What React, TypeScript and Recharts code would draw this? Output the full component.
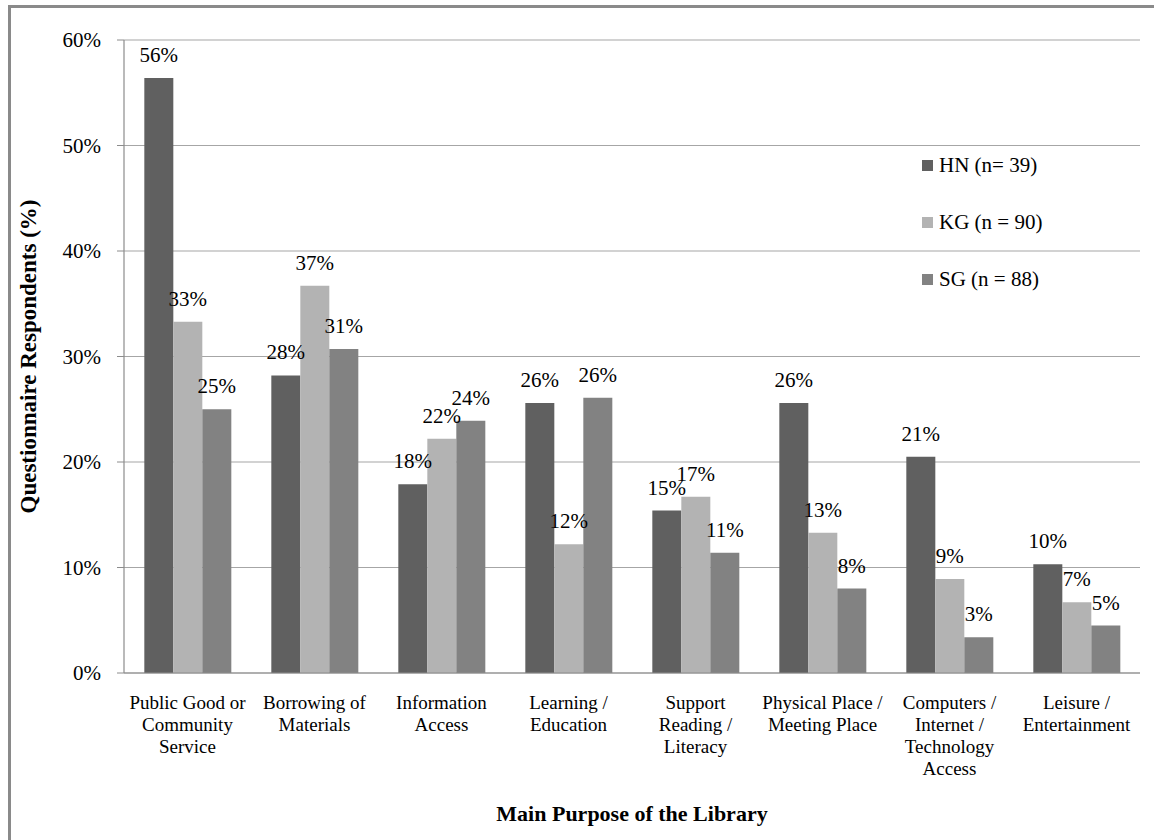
import React from 'react';
import {
  BarChart,
  Bar,
  XAxis,
  YAxis,
  CartesianGrid,
  Legend,
  LabelList,
} from 'recharts';

const FONT = '"Liberation Serif", "Times New Roman", serif';

// Survey answers: main purpose of the library, % of respondents per site
const categories = [
  'Public Good or\nCommunity\nService',
  'Borrowing of\nMaterials',
  'Information\nAccess',
  'Learning /\nEducation',
  'Support\nReading /\nLiteracy',
  'Physical Place /\nMeeting Place',
  'Computers /\nInternet /\nTechnology\nAccess',
  'Leisure /\nEntertainment',
];
const hnValues = [56.4, 28.2, 17.9, 25.6, 15.4, 25.6, 20.5, 10.3];
const kgValues = [33.3, 36.7, 22.2, 12.2, 16.7, 13.3, 8.9, 6.7];
const sgValues = [25.0, 30.7, 23.9, 26.1, 11.4, 8.0, 3.4, 4.5];
const seriesNames = ['HN (n= 39)', 'KG (n = 90)', 'SG (n = 88)'];
const seriesColors = ['#606060', '#b3b3b3', '#828282'];
const yTicks = [0, 10, 20, 30, 40, 50, 60];
const edgeTicks = [0, 1, 2, 3, 4, 5, 6, 7, 8];

const data = categories.map((name, i) => ({
  name,
  hn: hnValues[i],
  kg: kgValues[i],
  sg: sgValues[i],
}));
const seriesKeys = ['hn', 'kg', 'sg'];

const CategoryTick = (props: any) => {
  const { x, y, payload } = props;
  const lines = String(payload.value).split('\n');
  return (
    <text x={x} y={y} textAnchor="middle" fontFamily={FONT} fontSize={19} fill="#000">
      {lines.map((line, i) => (
        <tspan key={i} x={x} dy={i === 0 ? 36 : 22}>
          {line}
        </tspan>
      ))}
    </text>
  );
};

const LegendBox = () => (
  <div style={{ fontFamily: FONT, fontSize: 21, color: '#000' }}>
    {seriesNames.map((n, i) => (
      <div key={n} style={{ display: 'flex', alignItems: 'center', height: 57 }}>
        <span
          style={{
            display: 'inline-block',
            width: 11,
            height: 11,
            background: seriesColors[i],
            marginRight: 6,
          }}
        />
        {n}
      </div>
    ))}
  </div>
);

export default function App() {
  return (
    <>
      <div
        style={{
          position: 'absolute',
          left: 8,
          top: 5,
          width: 1143,
          height: 835,
          borderTop: '3px solid #8a8a8a',
          borderLeft: '3px solid #8a8a8a',
          background: '#fff',
        }}
      />
      <div style={{ position: 'absolute', left: 0, top: 0 }}>
        <BarChart
          width={1154}
          height={840}
          data={data}
          margin={{ top: 40, right: 14, bottom: 7, left: 64 }}
          barCategoryGap="16%"
          barGap={0}
        >
          <CartesianGrid vertical={false} stroke="#a6a6a6" strokeWidth={1.2} />
          <XAxis
            xAxisId="edge"
            type="number"
            dataKey="edge"
            domain={[0, 8]}
            ticks={edgeTicks}
            height={0}
            axisLine={false}
            tickSize={6}
            tickLine={{ stroke: '#8c8c8c' }}
            tick={() => <g />}
          />
          <XAxis
            dataKey="name"
            interval={0}
            height={160}
            tickSize={0}
            tickMargin={0}
            tickLine={false}
            axisLine={{ stroke: '#8c8c8c', strokeWidth: 1.2 }}
            tick={<CategoryTick />}
            label={{
              value: 'Main Purpose of the Library',
              position: 'insideBottom',
              offset: 12,
              style: { fontFamily: FONT, fontSize: 22, fontWeight: 'bold', fill: '#000' },
            }}
          />
          <YAxis
            width={60}
            domain={[0, 60]}
            ticks={yTicks}
            tickFormatter={(v) => `${v}%`}
            tickSize={7}
            tickMargin={16}
            tickLine={{ stroke: '#8c8c8c' }}
            axisLine={{ stroke: '#8c8c8c', strokeWidth: 1.2 }}
            tick={{ fontFamily: FONT, fontSize: 21, fill: '#000' }}
            label={{
              value: 'Questionnaire Respondents (%)',
              angle: -90,
              position: 'left',
              offset: 36,
              style: { fontFamily: FONT, fontSize: 23, fontWeight: 'bold', fill: '#000', textAnchor: 'middle' },
            }}
          />
          <Legend
            layout="vertical"
            align="center"
            verticalAlign="middle"
            content={<LegendBox />}
            wrapperStyle={{ position: 'absolute', left: 922, top: 137, width: 200, height: 171 }}
          />
          {seriesKeys.map((key, i) => (
            <Bar
              key={key}
              dataKey={key}
              name={seriesNames[i]}
              fill={seriesColors[i]}
              isAnimationActive={false}
            >
              <LabelList
                dataKey={key}
                position="top"
                offset={16}
                formatter={(v: any) => `${Math.round(Number(v))}%`}
                style={{ fontFamily: FONT, fontSize: 21, fill: '#000' }}
              />
            </Bar>
          ))}
        </BarChart>
      </div>
    </>
  );
}
